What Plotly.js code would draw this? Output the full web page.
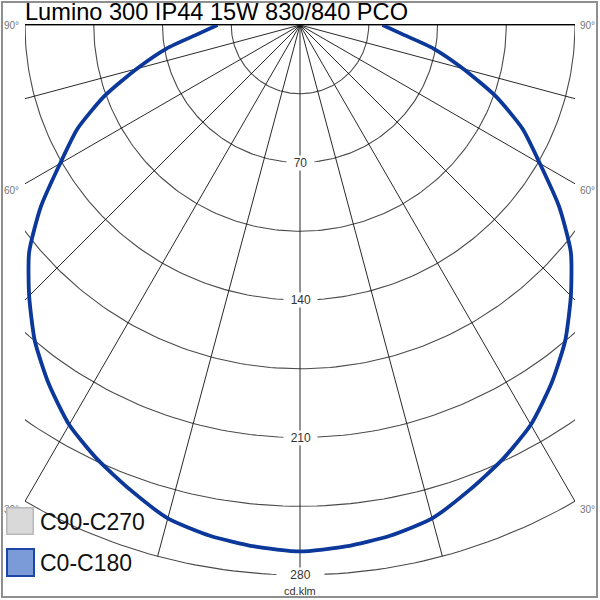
<!DOCTYPE html>
<html>
<head>
<meta charset="utf-8">
<script src="https://cdn.plot.ly/plotly-3.0.1.min.js"></script>
<style>
html,body{margin:0;padding:0;background:#fff;}
#chart{width:600px;height:600px;}
</style>
</head>
<body>
<div id="chart"></div>
<script>
// ---------------- data ----------------
const chartTitle = 'Lumino 300 IP44 15W 830/840 PCO';
const unitLabel = 'cd.klm';
const ringValues = [35, 70, 105, 140, 175, 210, 245, 280];
const ringLabelValues = [70, 140, 210, 280];
const ringLabelTexts = ['70', '140', '210', '280'];
const spokeAngles = [-90, -75, -60, -45, -30, -15, 0, 15, 30, 45, 60, 75, 90];
const angleLabelTexts = ['90°', '60°', '30°'];
const gammaDeg = [0, 5, 10, 15, 20, 25, 30, 35, 40, 45, 50, 55, 60, 65, 70, 75, 80, 85, 90];
const c0   = [268, 266.5, 264, 260, 252, 244, 235, 223, 210, 195, 180, 161, 141, 125, 106, 86, 69, 52, 42];
const c180 = [268, 266.5, 264, 260, 252, 244, 235, 223, 210, 195, 180, 161, 141, 125, 106, 86, 69, 52, 42];
const c90  = [268, 266.5, 264, 260, 252, 244, 235, 223, 210, 195, 180, 161, 141, 125, 106, 86, 69, 52, 42];
const c270 = [268, 266.5, 264, 260, 252, 244, 235, 223, 210, 195, 180, 161, 141, 125, 106, 86, 69, 52, 42];
const legendNames = ['C90-C270', 'C0-C180'];

// ---------------- helpers ----------------
const D2R = Math.PI / 180;
const rMax = ringValues[ringValues.length - 1];
function pt(I, gDeg, side) {
  return [side * I * Math.sin(gDeg * D2R), -I * Math.cos(gDeg * D2R)];
}
function planeCurve(left, right) {
  const xs = [], ys = [];
  for (let i = gammaDeg.length - 1; i >= 0; i--) {
    const p = pt(left[i], gammaDeg[i], -1); xs.push(p[0]); ys.push(p[1]);
  }
  for (let i = 1; i < gammaDeg.length; i++) {
    const p = pt(right[i], gammaDeg[i], 1); xs.push(p[0]); ys.push(p[1]);
  }
  return {x: xs, y: ys};
}
// layout geometry (pixels)
const W = 600, H = 600, ML = 25, MR = 25, MT = 25, MB = 25;
const PW = W - ML - MR, PH = H - MT - MB;
const px2x = px => (px - ML) / PW;
const px2y = py => (H - MB - py) / PH;
const FONT = 'Liberation Sans, Arial, sans-serif';

const traces = [];
// rings
const rx = [], ry = [];
ringValues.forEach(r => {
  for (let a = -90; a <= 90; a += 1) {
    const p = pt(r, a, 1); rx.push(p[0]); ry.push(p[1]);
  }
  rx.push(null); ry.push(null);
});
traces.push({x: rx, y: ry, mode: 'lines', line: {color: '#4a4a4a', width: 1.1}, hoverinfo: 'skip'});
// spokes
const sx = [], sy = [];
spokeAngles.forEach(a => {
  const p = pt(rMax, a, 1);
  sx.push(0, p[0], null); sy.push(0, p[1], null);
});
traces.push({x: sx, y: sy, mode: 'lines', line: {color: '#111', width: 0.9}, hoverinfo: 'skip'});
// C90-C270 (beneath)
const cB = planeCurve(c270, c90);
traces.push({x: cB.x, y: cB.y, mode: 'lines', name: legendNames[0],
  line: {color: '#bdbdbd', width: 3, dash: 'dash', shape: 'spline', smoothing: 0.6}});
// C0-C180
const cA = planeCurve(c180, c0);
traces.push({x: cA.x, y: cA.y, mode: 'lines', name: legendNames[1],
  line: {color: '#0b389a', width: 3.8, shape: 'spline', smoothing: 0.6}});

// annotations
const ann = [];
const nb = '\u00A0';
ringLabelValues.forEach((v, i) => {
  const pad = i === ringLabelValues.length - 1 ? nb.repeat(4) : nb.repeat(2);
  ann.push({xref: 'x', yref: 'y', x: 0, y: -v, text: pad + ringLabelTexts[i] + pad, showarrow: false,
    bgcolor: '#fff', borderpad: 0, font: {family: FONT, size: 12, color: '#333'},
    xanchor: 'center', yanchor: 'middle'});
});
ann.push({xref: 'paper', yref: 'paper', x: px2x(300), y: px2y(591), text: unitLabel, showarrow: false,
  font: {family: FONT, size: 11, color: '#333'}, xanchor: 'center', yanchor: 'middle'});
const angleLabelPy = [25, 191, 509];
angleLabelTexts.forEach((t, i) => {
  ann.push({xref: 'paper', yref: 'paper', x: px2x(2), y: px2y(angleLabelPy[i]), text: t, showarrow: false,
    font: {family: FONT, size: 10, color: '#777'}, xanchor: 'left', yanchor: 'middle'});
  ann.push({xref: 'paper', yref: 'paper', x: px2x(578), y: px2y(angleLabelPy[i]), text: t, showarrow: false,
    font: {family: FONT, size: 10, color: '#777'}, xanchor: 'left', yanchor: 'middle'});
});
// legend boxes
ann.push({xref: 'paper', yref: 'paper', x: px2x(19.5), y: px2y(520.5), text: nb, showarrow: false,
  width: 25, height: 25, bgcolor: '#d9d9d9', bordercolor: '#b8b8b8', borderwidth: 1.5, borderpad: 0,
  xanchor: 'center', yanchor: 'middle'});
ann.push({xref: 'paper', yref: 'paper', x: px2x(20), y: px2y(562), text: nb, showarrow: false,
  width: 25, height: 25, bgcolor: '#7b9ad8', bordercolor: '#1d46a6', borderwidth: 2, borderpad: 0,
  xanchor: 'center', yanchor: 'middle'});
ann.push({xref: 'paper', yref: 'paper', x: px2x(38), y: px2y(522), text: legendNames[0], showarrow: false,
  font: {family: FONT, size: 23, color: '#111'}, xanchor: 'left', yanchor: 'middle'});
ann.push({xref: 'paper', yref: 'paper', x: px2x(38), y: px2y(563), text: legendNames[1], showarrow: false,
  font: {family: FONT, size: 23, color: '#111'}, xanchor: 'left', yanchor: 'middle'});

const layout = {
  width: W, height: H,
  margin: {l: ML, r: MR, t: MT, b: MB, pad: 0},
  paper_bgcolor: '#fff', plot_bgcolor: '#fff',
  showlegend: false, hovermode: false,
  title: {text: chartTitle, x: 25 / W, xanchor: 'left', xref: 'container', y: 1 - 12 / H, yanchor: 'middle', yref: 'container',
    font: {family: FONT, size: 23.6, color: '#000'}},
  xaxis: {range: [-rMax / 2, rMax / 2], showgrid: false, zeroline: false, showticklabels: false, ticks: '',
    side: 'top', showline: true, linecolor: '#000', linewidth: 1, fixedrange: true},
  yaxis: {range: [-rMax, 0], showgrid: false, zeroline: false, showticklabels: false, ticks: '', showline: false, fixedrange: true},
  shapes: [{type: 'rect', xref: 'paper', yref: 'paper', x0: px2x(2), x1: px2x(597), y0: px2y(597), y1: px2y(2),
    line: {color: '#8f8f8f', width: 2}, fillcolor: 'rgba(0,0,0,0)', layer: 'above'}],
  annotations: ann
};
Plotly.newPlot('chart', traces, layout, {staticPlot: true, displayModeBar: false});
</script>
</body>
</html>
